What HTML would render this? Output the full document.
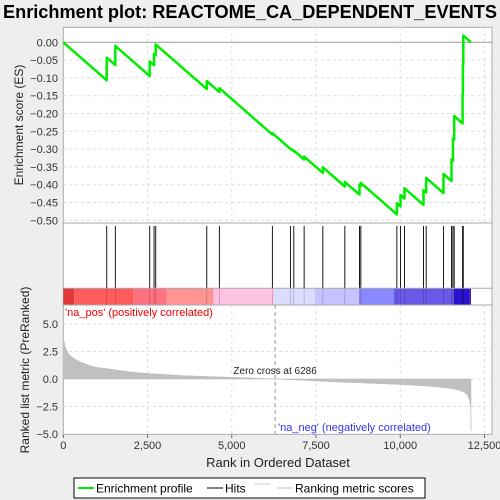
<!DOCTYPE html>
<html><head><meta charset="utf-8"><style>
html,body{margin:0;padding:0;background:#eeeeee;}
svg{display:block;font-family:"Liberation Sans",sans-serif;}
</style></head><body>
<svg id="c" width="500" height="500" viewBox="0 0 500 500" xmlns="http://www.w3.org/2000/svg">
<rect x="0" y="0" width="500" height="500" fill="#eeeeee"/>
<text x="3" y="18" font-size="18" font-weight="bold" textLength="494" lengthAdjust="spacingAndGlyphs" fill="#000">Enrichment plot: REACTOME_CA_DEPENDENT_EVENTS</text>
<g id="topPanel"></g>
<g id="hitsPanel"></g>
<g id="botPanel"></g>
<g>
<rect x="74" y="478" width="351" height="20" fill="#fff" stroke="#000" stroke-width="1"/>
<line x1="78" y1="488" x2="94" y2="488" stroke="#00ee00" stroke-width="2"/>
<text x="96" y="492.5" font-size="12">Enrichment profile</text>
<line x1="207" y1="488" x2="223" y2="488" stroke="#000" stroke-width="1"/>
<text x="225" y="492.5" font-size="12">Hits</text>
<line x1="254" y1="484" x2="270" y2="484" stroke="#ccc" stroke-width="1"/>
<line x1="277" y1="488" x2="293" y2="488" stroke="#bbb" stroke-width="1"/>
<text x="295" y="492.5" font-size="12">Ranking metric scores</text>
</g>
</svg>
<script>
const hitRanks=[1289,1544,2565,2693,2743,4258,4632,6205,6740,6841,7147,7702,8355,8789,8830,9899,10006,10125,10689,10769,11283,11520,11562,11600,11850,11860,11870];
const esPeaks=[-0.043,-0.010,-0.054,-0.032,-0.006,-0.109,-0.129,-0.255,-0.298,-0.304,-0.321,-0.351,-0.392,-0.400,-0.395,-0.452,-0.429,-0.410,-0.415,-0.381,-0.370,-0.329,-0.270,-0.207,-0.144,-0.062,0.019];
const missStep=8.28e-5;
const nGenes=12100;
const metricRanks=[0,50,150,300,500,800,1000,1500,2000,2500,3500,4500,5500,6286,7000,8000,9000,10000,10500,11000,11400,11700,11900,12000,12060,12090,12100];
const metricVals=[3.8,3.0,2.3,1.9,1.55,1.2,1.05,0.85,0.65,0.5,0.32,0.2,0.1,0,-0.1,-0.25,-0.37,-0.5,-0.58,-0.7,-0.82,-0.98,-1.2,-1.5,-2.0,-2.6,-4.7];
const esTicks=[0,-0.05,-0.10,-0.15,-0.20,-0.25,-0.30,-0.35,-0.40,-0.45,-0.50];
const metricTicks=[5,2.5,0,-2.5,-5];
const xTicks=[0,2500,5000,7500,10000,12500];
const zeroCross=6286;
const colorBands=[[0,320,"#e03838"],[320,2080,"#ff5b5b"],[2080,3070,"#ff7080"],[3070,4460,"#ff9494"],[4460,6250,"#ffc2e2"],[6250,7460,"#dcdcff"],[7460,8790,"#c6c2ff"],[8790,9810,"#8888ff"],[9810,11590,"#6a5aea"],[11590,12060,"#2a10d0"],[12060,12100,"#4020a0"]];

(function(){
const NS="http://www.w3.org/2000/svg";
const L=63.3,R=492;
const X=r=>L+r*(421.2/12500);
const Ytop=v=>42.3-v*356;
const Ybot=v=>379-v*11;
function mk(tag,attrs,parent){const e=document.createElementNS(NS,tag);for(const k in attrs)e.setAttribute(k,attrs[k]);parent.appendChild(e);return e;}
const gTop=document.getElementById('topPanel'),gHits=document.getElementById('hitsPanel'),gBot=document.getElementById('botPanel');

let e=mk('rect',{x:L,y:27.3,width:R-L,height:195.7,fill:'#fff',stroke:'#aaa'},gTop);


esTicks.forEach(t=>{
 const y=Ytop(t);
 let g=mk('line',{x1:L,x2:R,y1:y,y2:y,stroke:t===0?'#999':'#ddd','stroke-dasharray':t===0?'none':'3,3','stroke-width':1},gTop);
 
 
 let tx=mk('text',{x:58,y:y+4,'font-size':11,'text-anchor':'end',fill:'#333'},gTop);
 tx.textContent=(t===0?'0.00':t.toFixed(2).replace('-','\u2212'));
 
 
});
xTicks.forEach(t=>{
 if(t===0)return;
 let g=mk('line',{x1:X(t),x2:X(t),y1:27.3,y2:223,stroke:'#ddd','stroke-dasharray':'3,3'},gTop);
 
 
});
let pts=[[0,0]];let cur=0,prev=0;
hitRanks.forEach((r,i)=>{cur-=(r-prev)*missStep;pts.push([r,cur]);cur=esPeaks[i];pts.push([r,cur]);prev=r;});
cur-=(nGenes-prev)*missStep;pts.push([nGenes,Math.max(cur,0)]);
e=mk('polyline',{points:pts.map(p=>X(p[0]).toFixed(1)+','+Ytop(p[1]).toFixed(1)).join(' '),fill:'none',stroke:'#00ee00','stroke-width':2.5,'stroke-linejoin':'round'},gTop);


let yt=mk('text',{transform:'translate(23,125) rotate(-90)','font-size':12,'text-anchor':'middle',fill:'#222'},gTop);
yt.textContent='Enrichment score (ES)';



e=mk('rect',{x:L,y:223,width:R-L,height:82,fill:'#fff',stroke:'#aaa'},gHits);


colorBands.forEach(b=>{
 let r=mk('rect',{x:X(b[0]),y:288.3,width:X(b[1])-X(b[0]),height:16.7,fill:b[2]},gHits);
 
 
});
hitRanks.forEach(r=>{
 let l=mk('line',{x1:X(r),x2:X(r),y1:226,y2:288,stroke:'#000','stroke-width':0.9},gHits);
 
 
 let l2=mk('line',{x1:X(r),x2:X(r),y1:288.3,y2:305,stroke:'rgba(0,0,0,0.25)','stroke-width':0.7},gHits);
 
 
});
e=mk('line',{x1:L,x2:R,y1:288.3,y2:288.3,stroke:'#aaa'},gHits);



e=mk('rect',{x:L,y:305,width:R-L,height:129.5,fill:'#fff',stroke:'#aaa'},gBot);


xTicks.forEach(t=>{if(t===0)return;
 let g=mk('line',{x1:X(t),x2:X(t),y1:305,y2:434,stroke:'#ddd','stroke-dasharray':'3,3'},gBot);
 
 
});
metricTicks.forEach(t=>{
 const y=Ybot(t);
 let g=mk('line',{x1:L,x2:R,y1:y,y2:y,stroke:'#ddd','stroke-dasharray':'3,3'},gBot);
 
 
 let tx=mk('text',{x:58,y:y+4,'font-size':11,'text-anchor':'end',fill:'#333'},gBot);
 tx.textContent=t.toFixed(1).replace('-','\u2212');
 
 
});
let poly=metricRanks.map((r,i)=>X(r).toFixed(1)+','+Ybot(metricVals[i]).toFixed(1));
poly.push(X(nGenes).toFixed(1)+','+Ybot(0));poly.unshift(X(0)+','+Ybot(0));
e=mk('polygon',{points:poly.join(' '),fill:'#c0c0c0',stroke:'#bbb','stroke-width':0.5},gBot);


e=mk('line',{x1:X(zeroCross),x2:X(zeroCross),y1:305,y2:434,stroke:'#999','stroke-dasharray':'4,3'},gBot);


let zt=mk('text',{x:X(zeroCross),y:374,'font-size':10,'text-anchor':'middle',fill:'#222'},gBot);
zt.textContent='Zero cross at '+zeroCross;


let pl=mk('text',{x:65,y:316,'font-size':11,fill:'#ee0000'},gBot);
pl.textContent="'na_pos' (positively correlated)";


let nl=mk('text',{x:278,y:431,'font-size':11,fill:'#3333ee'},gBot);
nl.textContent="'na_neg' (negatively correlated)";


xTicks.forEach(t=>{
 let tk=mk('line',{x1:X(t),x2:X(t),y1:434.5,y2:438,stroke:'#666'},gBot);
 
 
 let tx=mk('text',{x:X(t),y:449,'font-size':11,'text-anchor':'middle',fill:'#333'},gBot);
 tx.textContent=t.toLocaleString('en-US');
 
 
});
let xt=mk('text',{x:278,y:467,'font-size':13,'text-anchor':'middle',fill:'#222'},gBot);
xt.textContent='Rank in Ordered Dataset';


let yb=mk('text',{transform:'translate(29,370) rotate(-90)','font-size':12,'text-anchor':'middle',fill:'#222'},gBot);
yb.textContent='Ranked list metric (PreRanked)';


})();
</script>
</body></html>
